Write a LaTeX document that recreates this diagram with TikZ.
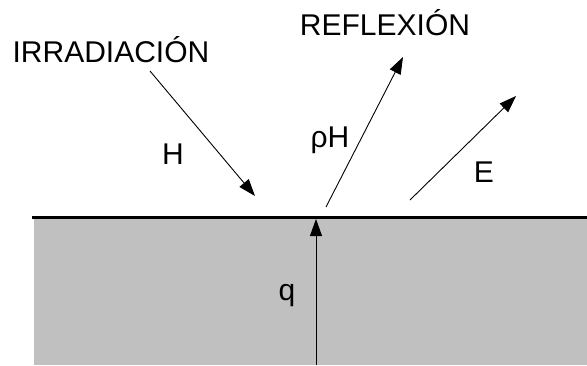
\documentclass[tikz,border=0pt]{standalone}
\usepackage{fontspec}
\setmainfont{Liberation Sans}
\usetikzlibrary{arrows.meta}
\definecolor{bodygray}{RGB}{192,192,192}
\tikzset{
  lbl/.style={font=\fontsize{30}{35}\selectfont,inner sep=0pt,anchor=base},
  ray/.style={-{Triangle[length=17pt,width=12pt]},line width=0.9pt},
  surf/.style={line width=3pt}
}

\begin{document}
\begin{tikzpicture}[x=1pt,y=-1pt]
\useasboundingbox (0,0) rectangle (587,365);

\fill[bodygray] (34,218) rectangle (587,365);

\coordinate (sl) at (32,217);
\coordinate (sr) at (587,217);
\draw[surf] (sl) -- (sr);

\node[lbl] (irr) at (111,62) {IRRADIACIÓN};
\node[lbl] (refl) at (385,35) {REFLEXIÓN};
\node[lbl] (h) at (173,164) {H};
\node[lbl] (rh) at (330,147) {ρH};
\node[lbl] (e) at (484,182) {E};
\node[lbl] (q) at (287,300) {q};

\coordinate (hin) at (150,71);
\coordinate (hout) at (255,196);
\coordinate (rin) at (326,207);
\coordinate (rout) at (403,57);
\coordinate (ein) at (410,200);
\coordinate (eout) at (516,96);
\coordinate (qin) at (316,365);
\coordinate (qout) at (316,219);

\draw[ray] (hin) -- (hout);
\draw[ray] (rin) -- (rout);
\draw[ray] (ein) -- (eout);
\draw[ray] (qin) -- (qout);

\end{tikzpicture}
\end{document}
